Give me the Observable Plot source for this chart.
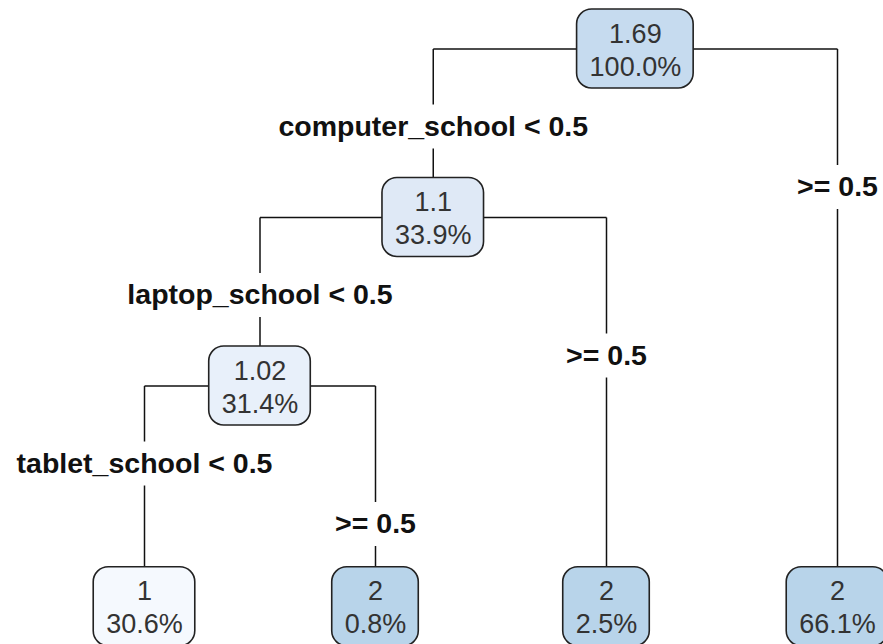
<!DOCTYPE html>
<html><head><meta charset="utf-8">
<script src="https://cdn.jsdelivr.net/npm/d3@7"></script>
<script src="https://cdn.jsdelivr.net/npm/@observablehq/plot@0.6"></script>
<style>body{margin:0;background:#fff;overflow:hidden}</style>
</head><body><div id="chart"></div>
<script>
// ---- data (rpart node numbering: children of k are 2k and 2k+1) ----
const nodeIds = [1, 2, 4, 8, 9, 5, 3];
const nodeValues = [1.69, 1.1, 1.02, 1, 2, 2, 2];
const nodeValueLabels = ["1.69", "1.1", "1.02", "1", "2", "2", "2"];
const nodePercents = ["100.0%", "33.9%", "31.4%", "30.6%", "0.8%", "2.5%", "66.1%"];
const splitNodeIds = [1, 2, 4];
const splitVars = ["computer_school", "laptop_school", "tablet_school"];
const splitCuts = ["0.5", "0.5", "0.5"];

// ---- layout ----
const W = 883, H = 644;
const pxX = 231, pxY = 168.5;          // px per tree unit
const leafLevel = 3.31;                // leaves drawn at bottom
const boxHalfH = 39.5 / pxY;
const nodeFontSize = 27;
const ctx = document.createElement("canvas").getContext("2d");
ctx.font = `${nodeFontSize}px "Liberation Sans", Arial, sans-serif`;

const byId = new Map(nodeIds.map((id, i) => [id, {
  id, value: nodeValues[i], vlab: nodeValueLabels[i], pct: nodePercents[i]
}]));
const isLeaf = id => !byId.has(2 * id);
let leafIdx = 0;
function place(id, d) {
  const n = byId.get(id);
  if (isLeaf(id)) { n.x = leafIdx++; n.y = leafLevel; }
  else {
    place(2 * id, d + 1); place(2 * id + 1, d + 1);
    n.x = (byId.get(2 * id).x + byId.get(2 * id + 1).x) / 2;
    n.y = d;
  }
}
place(1, 0);
const nodes = nodeIds.map(id => {
  const n = byId.get(id);
  const w = Math.max(ctx.measureText(n.vlab).width, ctx.measureText(n.pct).width) + 25;
  n.x1 = n.x - w / 2 / pxX; n.x2 = n.x + w / 2 / pxX;
  n.y1 = n.y - boxHalfH; n.y2 = n.y + boxHalfH;
  return n;
});

const gap = 22 / pxY;
const segs = [], labels = [];
splitNodeIds.forEach((id, i) => {
  const p = byId.get(id), L = byId.get(2 * id), R = byId.get(2 * id + 1);
  segs.push({x1: L.x, y1: p.y, x2: R.x, y2: p.y});
  const ly = p.y + 0.46, ry = p.y + 0.819;
  labels.push({x: L.x, y: ly, text: `${splitVars[i]} < ${splitCuts[i]}`});
  labels.push({x: R.x, y: ry, text: `>= ${splitCuts[i]}`});
  segs.push({x1: L.x, y1: p.y, x2: L.x, y2: ly - gap});
  segs.push({x1: L.x, y1: ly + gap, x2: L.x, y2: L.y1});
  segs.push({x1: R.x, y1: p.y, x2: R.x, y2: ry - gap});
  segs.push({x1: R.x, y1: ry + gap, x2: R.x, y2: R.y1});
});

const x0 = 144 / pxX, y0 = 48.5 / pxY;
const plot = Plot.plot({
  width: W, height: H, margin: 0,
  x: {axis: null, domain: [-x0, W / pxX - x0]},
  y: {axis: null, domain: [-y0, H / pxY - y0], reverse: true},
  color: {type: "linear", domain: [1, 1.02, 1.1, 1.69, 2],
          range: ["#f5f9fe", "#e8f0fa", "#dfe9f6", "#c6dbef", "#b8d4ea"]},
  style: {fontFamily: '"Liberation Sans", Arial, sans-serif', background: "#fff"},
  marks: [
    Plot.link(segs, {x1: "x1", y1: "y1", x2: "x2", y2: "y2", stroke: "#111", strokeWidth: 1.5}),
    Plot.rect(nodes, {x1: "x1", x2: "x2", y1: "y1", y2: "y2", fill: "value",
                      stroke: "#222", strokeWidth: 1.6, rx: 15}),
    Plot.text(nodes, {x: "x", y: "y", text: "vlab", dy: -15, fontSize: nodeFontSize, fill: "#333"}),
    Plot.text(nodes, {x: "x", y: "y", text: "pct", dy: 18, fontSize: nodeFontSize, fill: "#333"}),
    Plot.text(labels, {x: "x", y: "y", text: "text", fontSize: 28.5, fontWeight: "bold", fill: "#111"})
  ]
});
document.getElementById("chart").append(plot);
</script>
</body></html>
